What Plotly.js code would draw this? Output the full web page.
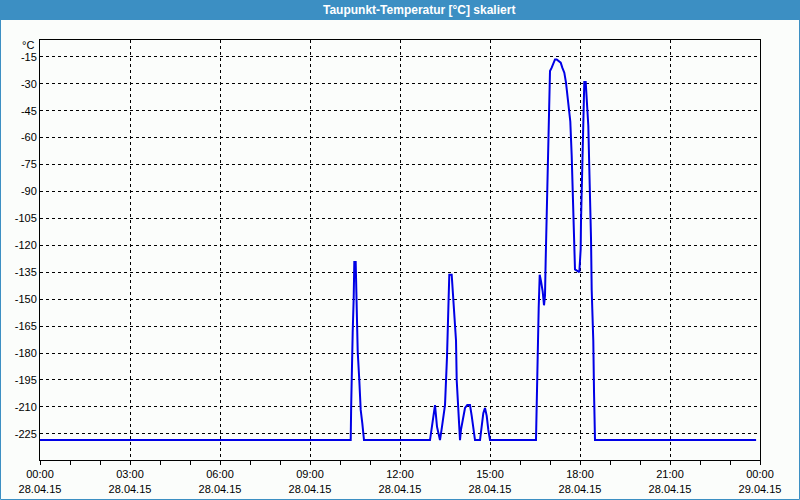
<!DOCTYPE html>
<html>
<head>
<meta charset="utf-8">
<script src="https://cdn.plot.ly/plotly-3.0.1.min.js"></script>
<style>
html,body{margin:0;padding:0;background:#fbfdfb;}
#chart{width:800px;height:500px;}
</style>
</head>
<body>
<div id="chart"></div>
<script>
// Time of day in hours (28.04.15)
const hours = [
  0, 10.357, 10.373, 10.39, 10.423, 10.457, 10.477, 10.523, 10.543, 10.59, 10.643, 10.69, 10.743, 10.8,
  13.0, 13.1, 13.167, 13.233, 13.333, 13.4, 13.5, 13.567, 13.61, 13.643, 13.723, 13.8, 13.833, 13.867, 13.89, 13.923, 13.977, 14.0,
  14.033, 14.11, 14.167, 14.243, 14.333, 14.39, 14.443, 14.5, 14.667, 14.723, 14.777, 14.833, 14.89, 14.943, 15.0,
  16.533, 16.55, 16.577, 16.6, 16.623, 16.657, 16.7, 16.757, 16.8, 16.833, 16.857, 16.89, 16.923, 16.943, 16.967, 17.0,
  17.057, 17.11, 17.167, 17.223, 17.277, 17.357, 17.41, 17.477, 17.533, 17.59, 17.643, 17.677, 17.723, 17.777, 17.81, 17.833,
  17.977, 18.023, 18.033, 18.09, 18.143, 18.19, 18.223, 18.277, 18.31, 18.333, 18.367, 18.39, 18.443, 18.467, 18.5,
  23.87
];
// Dew point temperature [°C], scaled
const dewPoint = [
  -228.5, -228.5, -209, -189, -168.7, -149, -129.3, -129.3, -145.7, -179, -195, -211.7, -219, -228.5,
  -228.5, -217, -209, -221, -228.5, -221, -209, -182, -152, -136.4, -136.4, -157, -165, -173, -195, -206, -224, -228.5,
  -222.7, -215.4, -210.6, -209, -209, -215, -222.7, -228.5, -228.5, -221, -213.5, -210.6, -215, -222.7, -228.5,
  -228.5, -209, -194, -173.6, -155, -136.4, -140, -145.8, -153.4, -148, -127.5, -101.6, -80, -66.4, -48.8, -22.9,
  -21, -18.2, -16.4, -16.4, -17.3, -18.2, -21, -23.8, -29.3, -36.8, -47, -51, -70, -98, -116, -133.4,
  -135, -122, -107, -60, -29, -29, -41.4, -53.4, -77, -90, -116, -145, -173, -201.5, -228.5,
  -228.5
];
const xTickVals = [0, 3, 6, 9, 12, 15, 18, 21, 24];
const xTimeLabels = ["00:00", "03:00", "06:00", "09:00", "12:00", "15:00", "18:00", "21:00", "00:00"];
const xDateLabels = ["28.04.15", "28.04.15", "28.04.15", "28.04.15", "28.04.15", "28.04.15", "28.04.15", "28.04.15", "29.04.15"];
const yTickVals = [-15, -30, -45, -60, -75, -90, -105, -120, -135, -150, -165, -180, -195, -210, -225];
const yTickLabels = ["-15", "-30", "-45", "-60", "-75", "-90", "-105", "-120", "-135", "-150", "-165", "-180", "-195", "-210", "-225"];
const titleText = "Taupunkt-Temperatur [°C] skaliert";
const unitText = "°C";

const minorVals = [];
for (let h = 1; h < 24; h++) if (h % 3 !== 0) minorVals.push(h);

const bg = "#fbfdfb";
const barColor = "#3c8fc3";
const font = {family: "Liberation Sans, Arial, sans-serif", size: 11, color: "#000"};

const trace = {
  x: hours, y: dewPoint, type: "scatter", mode: "lines",
  line: {color: "#0000e6", width: 2, shape: "linear"},
  hoverinfo: "skip"
};

const layout = {
  width: 800, height: 500,
  margin: {l: 40, r: 40, t: 40, b: 40, pad: 0},
  paper_bgcolor: bg, plot_bgcolor: bg,
  showlegend: false,
  font: font,
  title: {
    text: "<b>" + titleText + "</b>",
    font: {family: "Liberation Sans, Arial, sans-serif", size: 12, color: "#ffffff"},
    xref: "container", yref: "container", x: 0.524, y: 0.98, xanchor: "center", yanchor: "middle"
  },
  xaxis: {
    range: [0, 24],
    tickmode: "array", tickvals: xTickVals,
    ticktext: xTimeLabels.map((t, i) => t + "<br>" + xDateLabels[i]),
    ticks: "outside", ticklen: 4, tickcolor: "#000", tickwidth: 1,
    showgrid: true, gridcolor: "#000", gridwidth: 1, griddash: "3px,3px",
    showline: true, linecolor: "#000", linewidth: 1, mirror: true,
    zeroline: false, fixedrange: true,
    tickfont: font,
    minor: {tickmode: "array", tickvals: minorVals, ticks: "outside", ticklen: 4, tickcolor: "#000", showgrid: false}
  },
  yaxis: {
    range: [-239.6, -5.6],
    tickmode: "array", tickvals: yTickVals, ticktext: yTickLabels,
    ticks: "",
    showgrid: true, gridcolor: "#000", gridwidth: 1, griddash: "3px,3px",
    showline: true, linecolor: "#000", linewidth: 1, mirror: true,
    zeroline: false, fixedrange: true,
    tickfont: font
  },
  shapes: [
    {type: "rect", xref: "paper", yref: "paper", layer: "below",
     x0: -40/720, x1: 1 + 40/720, y0: 1 + 20/420, y1: 1 + 40/420,
     fillcolor: barColor, line: {width: 0}},
    {type: "rect", xref: "paper", yref: "paper", layer: "below",
     x0: -39.5/720, x1: 1 + 39.5/720, y0: -39.5/420, y1: 1 + 39.5/420,
     fillcolor: "rgba(0,0,0,0)", line: {color: barColor, width: 1}}
  ],
  annotations: [
    {text: unitText, xref: "paper", yref: "paper", x: -4/720, y: 1 - 5/420,
     xanchor: "right", yanchor: "middle", showarrow: false, font: font}
  ]
};

Plotly.newPlot("chart", [trace], layout, {displayModeBar: false, staticPlot: true});
</script>
</body>
</html>
